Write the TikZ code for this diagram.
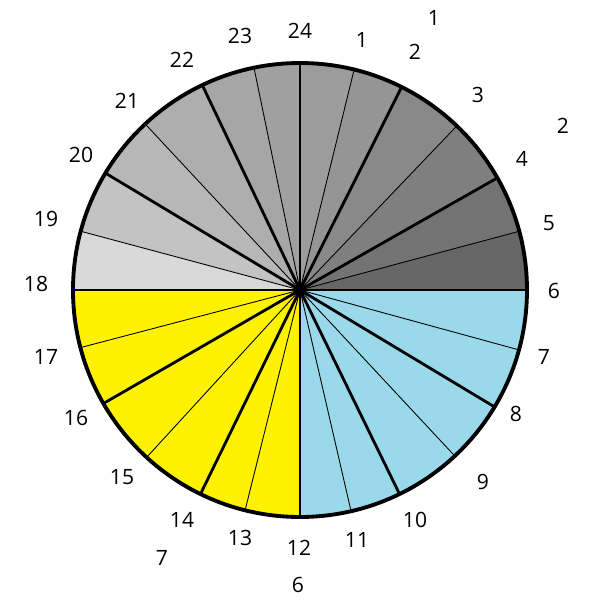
\documentclass[tikz,border=0pt]{standalone}
\usepackage{fontspec}
\setmainfont{Open Sans}
\usetikzlibrary{calc}

\definecolor{ga}{HTML}{9C9C9C}
\definecolor{gb}{HTML}{959595}
\definecolor{gc}{HTML}{898989}
\definecolor{gd}{HTML}{7F7F7F}
\definecolor{ge}{HTML}{737373}
\definecolor{gf}{HTML}{676767}
\definecolor{la}{HTML}{D9D9D9}
\definecolor{lb}{HTML}{C3C3C3}
\definecolor{lc}{HTML}{B7B7B7}
\definecolor{ld}{HTML}{AEAEAE}
\definecolor{le}{HTML}{A6A6A6}
\definecolor{lf}{HTML}{A0A0A0}
\definecolor{sky}{HTML}{99D9EA}
\definecolor{sun}{HTML}{FFF200}

\begin{document}
\begin{tikzpicture}[x=0.02cm, y=0.02cm,
    num/.style={font=\fontsize{12}{14}\selectfont, inner sep=0pt},
    rim/.style={line width=2.2pt},
    bold/.style={line width=1.6pt},
    fine/.style={line width=0.5pt}
]
\useasboundingbox (0,0) rectangle (600,600);
\coordinate (O) at (300,310);

% sectors, angles clockwise from the top
\foreach \a/\b/\c in {0/13.8/ga, 13.8/26.6/gb, 26.6/43.7/gc, 43.7/60.4/gd, 60.4/75/ge, 75/90/gf,
    90/180/sky, 180/270/sun,
    270/285/la, 285/301/lb, 301/317/lc, 317/334.5/ld, 334.5/348.3/le, 348.3/360/lf}
  \fill[\c] (O) -- ($(O)+({90-\a}:227)$) arc[start angle={90-\a}, end angle={90-\b}, radius=227] -- cycle;

\foreach \a in {13.8,43.7,75,105.3,137,167,194,222.5,255.3,285,317,348.3}
  \draw[fine] (O) -- ++({90-\a}:227);
\foreach \a in {0,26.6,60.4,90,121,154,180,206,240,270,301,334.5}
  \draw[bold] (O) -- ++({90-\a}:227);
\draw[rim] (O) circle[radius=227];

% hour numbers
\foreach \t/\x/\y in {24/300/569, 1/362/560, 2/415/548, 3/478/505, 4/522/441, 5/549/377,
    6/554/309, 7/544/243, 8/516/186, 9/483/118, 10/415/80, 11/357/60,
    12/299/52, 13/240/62, 14/182/80, 15/122/123, 16/76/182, 17/46/243,
    18/36/316, 19/46/381, 20/81/445, 21/127/499, 22/182/540, 23/240/564}
  \node[num] (h\t) at (\x,\y) {\t};

\node[num] (e1) at (434,582) {1};
\node[num] (e2) at (563,474) {2};
\node[num] (e7) at (162,42) {7};
\node[num] (e6) at (298,15) {6};
\end{tikzpicture}
\end{document}
